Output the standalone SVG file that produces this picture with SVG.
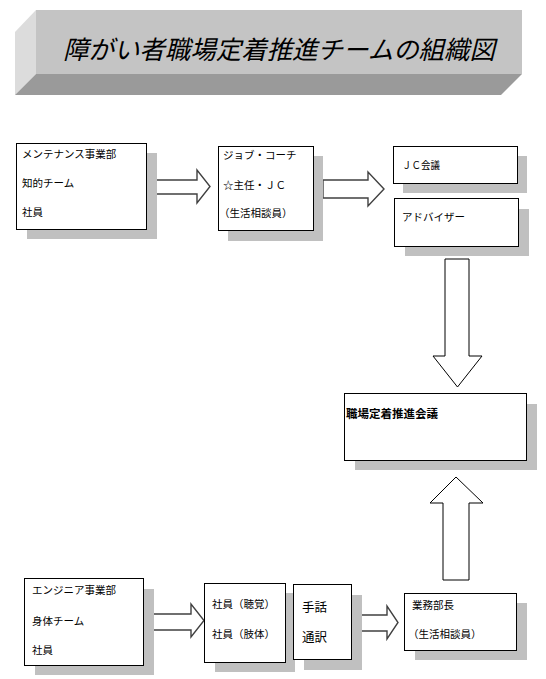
<svg xmlns="http://www.w3.org/2000/svg" width="546" height="679" viewBox="0 0 546 679">
<style>
.bg{fill:#ffffff}
.sh{fill:#c0c0c0}
.bx{fill:#ffffff;stroke:#000000;stroke-width:1}
.t{font-family:"Noto Sans CJK JP","Noto Sans",sans-serif;font-size:10.5px;fill:#000000}
.tl{font-family:"Noto Sans CJK JP","Noto Sans",sans-serif;font-size:12.5px;fill:#000000}
.tb{font-family:"Noto Sans CJK JP","Noto Sans",sans-serif;font-size:11.5px;font-weight:bold;fill:#000000}
.ttl{font-family:"Noto Sans CJK JP","Noto Sans",sans-serif;font-size:25.5px;font-style:italic;fill:#000000}
.ah{fill:#ffffff;stroke:#404040;stroke-width:1.4;stroke-linejoin:miter}
.av{fill:#ffffff;stroke:#000000;stroke-width:1;stroke-linejoin:miter}
</style>
<rect class="bg" x="0" y="0" width="546" height="679"/>

<g id="title">
  <polygon points="36,10 15,32 15,95 36,74" fill="#dcdcdc"/>
  <polygon points="36,74 522,74 501,95 15,95" fill="#9a9a9a"/>
  <rect x="36" y="10" width="486" height="64" fill="#c4c4c4"/>
  <text class="ttl" x="63" y="59" textLength="432" lengthAdjust="spacingAndGlyphs">障がい者職場定着推進チームの組織図</text>
</g>

<g id="connectors">
  <polygon class="ah" points="155,180 197,180 197,170 210,186.5 197,203 197,194 155,194"/>
  <polygon class="ah" points="323,180 368,180 368,172 384,189 368,206 368,198 323,198"/>
  <polygon class="av" points="445,259 469,259 469,356 482,356 457.5,387 433,356 445,356"/>
  <polygon class="av" points="443,580 469,580 469,503 483,503 456,477 430,503 443,503"/>
  <polygon class="ah" points="148,614 191,614 191,604 204,620.5 191,637 191,630 148,630"/>
  <polygon class="ah" points="356,615 387,615 387,606 398,622.5 387,639 387,631 356,631"/>
</g>

<g id="maintenance">
  <rect class="sh" x="27" y="153" width="130" height="86"/>
  <rect class="bx" x="16.5" y="143.5" width="130" height="86"/>
  <text class="t" x="22" y="158">メンテナンス事業部</text>
  <text class="t" x="22" y="187">知的チーム</text>
  <text class="t" x="22" y="216">社員</text>
</g>

<g id="jobcoach">
  <rect class="sh" x="228" y="156" width="95" height="85"/>
  <rect class="bx" x="218.5" y="146.5" width="95" height="84"/>
  <text class="t" x="223" y="159">ジョブ・コーチ</text>
  <text class="t" x="223" y="189">☆主任・ＪＣ</text>
  <text class="t" x="219" y="217">（生活相談員）</text>
</g>

<g id="jc">
  <rect class="sh" x="403" y="156" width="124" height="37"/>
  <rect class="bx" x="393.5" y="146.5" width="124" height="37"/>
  <text class="t" x="402" y="169" textLength="38" lengthAdjust="spacingAndGlyphs">ＪＣ会議</text>
</g>

<g id="advisor">
  <rect class="sh" x="405" y="209" width="124" height="47"/>
  <rect class="bx" x="394.5" y="198.5" width="124" height="48"/>
  <text class="t" x="402" y="221">アドバイザー</text>
</g>

<g id="council">
  <rect class="sh" x="355" y="404" width="182" height="66"/>
  <rect class="bx" x="344.5" y="393.5" width="182" height="67"/>
  <text class="tb" x="346" y="418">職場定着推進会議</text>
</g>

<g id="engineer">
  <rect class="sh" x="35" y="589" width="119" height="86"/>
  <rect class="bx" x="24.5" y="578.5" width="119" height="87"/>
  <text class="t" x="32" y="594">エンジニア事業部</text>
  <text class="t" x="32" y="625">身体チーム</text>
  <text class="t" x="32" y="654">社員</text>
</g>

<g id="staff">
  <rect class="sh" x="215" y="593" width="80" height="79"/>
  <rect class="bx" x="204.5" y="583.5" width="81" height="79"/>
  <text class="t" x="212" y="608">社員（聴覚）</text>
  <text class="t" x="212" y="638">社員（肢体）</text>
</g>

<g id="interpreter">
  <rect class="sh" x="304" y="595" width="58" height="75"/>
  <rect class="bx" x="293.5" y="584.5" width="58" height="75"/>
  <text class="tl" x="302" y="612">手話</text>
  <text class="tl" x="302" y="642">通訳</text>
</g>

<g id="manager">
  <rect class="sh" x="415" y="603" width="112" height="57"/>
  <rect class="bx" x="404.5" y="593.5" width="112" height="57"/>
  <text class="t" x="412" y="609">業務部長</text>
  <text class="t" x="408" y="638">（生活相談員）</text>
</g>
</svg>
